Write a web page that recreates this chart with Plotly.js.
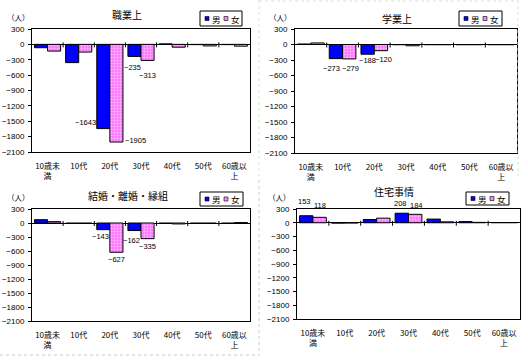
<!DOCTYPE html>
<html><head><meta charset="utf-8">
<script src="https://cdn.plot.ly/plotly-3.0.1.min.js"></script>
<style>body{margin:0;background:#fff}#chart{width:528px;height:360px}</style>
</head><body><div id="chart"></div>
<script>
// ---- data ----
const categories = ['10歳未<br>満','10代','20代','30代','40代','50代','60歳以<br>上'];
const yTicks = [300,0,-300,-600,-900,-1200,-1500,-1800,-2100];
const titles = ['職業上','学業上','結婚・離婚・縁組','住宅事情'];
const seriesNames = ['男','女'];
const unitLabel = '（人）';
const occMale   = [-65,-356,-1643,-235,10,-5,-5];
const occFemale = [-131,-150,-1905,-313,-55,-30,-35];
const eduMale   = [10,-273,-188,-5,-5,-5,-5];
const eduFemale = [30,-279,-120,-25,-5,-5,-5];
const marMale   = [71,-10,-143,-162,-10,-10,-10];
const marFemale = [29,-10,-627,-335,-20,-10,8];
const houMale   = [153,-8,70,208,80,25,5];
const houFemale = [118,-5,100,184,20,8,5];

// ---- layout config (positions/styles) ----
const W = 528, H = 360;
const panels = [
  {m: occMale, f: occFemale, box:[32,250,29,152], title:[127,15], unit:[18,17], legend:[200,242,11,26],
   labels:[[0,2,-18,6.5],[0,3,-2,-10.7],[1,2,18.6,1.5],[1,3,0,-15]]},
  {m: eduMale, f: eduFemale, box:[295,517,29,153], title:[397,18], unit:[280,17], legend:[459,502,11,26],
   labels:[[0,1,-4,-9.7],[0,2,0,-6.5],[1,1,1,-9.4],[1,2,2.5,-8.6]]},
  {m: marMale, f: marFemale, box:[32,250,209,321], title:[128,195], unit:[18,197], legend:[200,243,192,206],
   labels:[[0,2,-3.3,-7],[0,3,-2.5,-10],[1,2,0,-7],[1,3,0,-8]]},
  {m: houMale, f: houFemale, box:[297,520,209,319], title:[394,191.5], unit:[279,197], legend:[466,509,192,205],
   labels:[[0,0,-1.5,14.7],[0,3,-1,10],[1,0,0,12.3],[1,3,1.5,9.3]]}
];
const FONT = 'Liberation Sans, Arial, "Noto Sans CJK JP", sans-serif';
const JFONT = '"Noto Sans CJK JP", "Liberation Sans", sans-serif';
const px = x => x / W, py = y => 1 - y / H;
const fmt = v => String(v).replace('-', '−');
const MALE = '#0000FF', FEM = '#FF80FF';

const data = [], annotations = [], shapes = [];
const layout = {width:W, height:H, margin:{l:0,r:0,t:0,b:0}, paper_bgcolor:'#fff', plot_bgcolor:'#fff',
  barmode:'group', bargap:0.16, bargroupgap:0, showlegend:false, font:{family:FONT, size:8, color:'#000'}};

panels.forEach((p, k) => {
  const s = k === 0 ? '' : String(k + 1);
  const xa = 'x' + s, ya = 'y' + s;
  data.push({type:'bar', x: categories, y: p.m, name: seriesNames[0], xaxis: xa, yaxis: ya,
    marker:{color: MALE, line:{color:'#000', width:1}}, hoverinfo:'skip'});
  data.push({type:'bar', x: categories, y: p.f, name: seriesNames[1], xaxis: xa, yaxis: ya,
    marker:{color: FEM, line:{color:'#000', width:1},
      pattern:{shape:'.', bgcolor:'#FF78FF', fgcolor:'#FFBEFF', size:3, solidity:0.3}}, hoverinfo:'skip'});
  const [x0, x1, y0, y1] = p.box;
  layout['xaxis' + s] = {domain:[px(x0), px(x1)], anchor: ya, type:'category', categoryorder:'array', categoryarray: categories,
    range:[-0.5, 6.5], showline:true, mirror:true, linecolor:'#000', linewidth:1, ticks:'', showgrid:false,
    tickfont:{size:8, family:JFONT}, ticklabelstandoff:6, fixedrange:true};
  layout['yaxis' + s] = {domain:[py(y1), py(y0)], anchor: xa, range:[-2100, 300], tickvals: yTicks, ticktext: yTicks.map(fmt),
    ticks:'outside', ticklen:3, tickcolor:'#000', showline:true, mirror:true, linecolor:'#000', linewidth:1,
    showgrid:false, zeroline:true, zerolinecolor:'#000', zerolinewidth:1, tickfont:{size:8}, ticklabelstandoff:2, fixedrange:true};
  // category separator ticks on zero line
  for (let i = 0; i < categories.length - 1; i++) {
    shapes.push({type:'line', xref: xa, yref: ya, x0: i + 0.5, x1: i + 0.5, ysizemode:'pixel', yanchor:0, y0:-3, y1:2,
      line:{color:'#000', width:1}});
  }
  // data labels
  p.labels.forEach(([ser, i, dx, dy]) => {
    const v = ser === 0 ? p.m[i] : p.f[i];
    annotations.push({xref: xa, yref: ya, x: i + (ser === 0 ? -0.21 : 0.21), y: v, text: fmt(v), showarrow:false,
      xanchor:'center', yanchor:'middle', xshift: dx, yshift: dy, borderpad:0, font:{size:7.5, family:FONT, color:'#000'}});
  });
  // title & unit
  annotations.push({xref:'paper', yref:'paper', x: px(p.title[0]), y: py(p.title[1]), xanchor:'center', yanchor:'middle',
    text: titles[k], showarrow:false, borderpad:0, font:{size:10, family:JFONT, color:'#000'}});
  annotations.push({xref:'paper', yref:'paper', x: px(p.unit[0]), y: py(p.unit[1]), xanchor:'center', yanchor:'middle',
    text: unitLabel, showarrow:false, font:{size:7.5, family:JFONT, color:'#000'}});
  // manual legend
  const [lx0, lx1, ly0, ly1] = p.legend;
  const cy = (ly0 + ly1) / 2;
  shapes.push({type:'rect', xref:'paper', yref:'paper', x0: px(lx0), x1: px(lx1), y0: py(ly1), y1: py(ly0),
    line:{color:'#000', width:1}, fillcolor:'#fff', layer:'below'});
  [[MALE, lx0 + 5, seriesNames[0]], [FEM, lx0 + 24, seriesNames[1]]].forEach(([c, sx, t]) => {
    shapes.push({type:'rect', xref:'paper', yref:'paper', x0: px(sx), x1: px(sx + 4), y0: py(cy + 2), y1: py(cy - 2),
      line:{color:'#000', width:0.6}, fillcolor: c});
    annotations.push({xref:'paper', yref:'paper', x: px(sx + 5), y: py(cy), xanchor:'left', yanchor:'middle', text: t,
      showarrow:false, font:{size:8.5, family:JFONT, color:'#000'}});
  });
});

// dotted panel frames
const dot = (x0, y0, x1, y1, c) => shapes.push({type:'line', xref:'paper', yref:'paper', x0: px(x0), y0: py(y0), x1: px(x1), y1: py(y1),
  line:{color: c, width:1, dash:'dot'}});
dot(259, 1, 518, 1, '#cfe8cf');
dot(259, 0, 259, 176, '#cfe8cf');
dot(518, 0, 518, 176, '#cfe8cf');
dot(259, 180, 259, 355, '#cccccc');
dot(0, 355, 259, 355, '#cccccc');

layout.annotations = annotations;
layout.shapes = shapes;
Plotly.newPlot('chart', data, layout, {staticPlot:true, displayModeBar:false});
</script>
</body></html>
